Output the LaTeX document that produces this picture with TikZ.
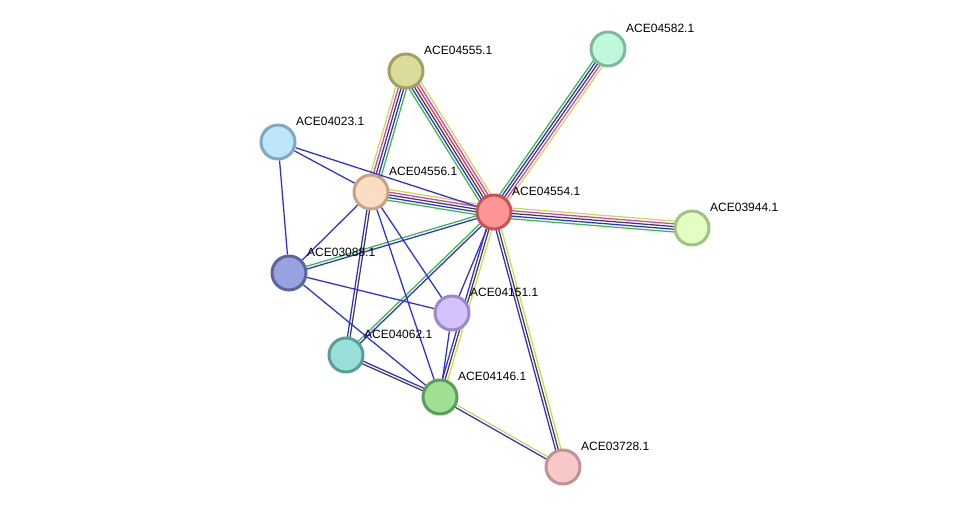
\documentclass[tikz,border=0pt]{standalone}
\usepackage{fontspec}
\setmainfont{Liberation Sans}
\usetikzlibrary{calc}
\pgfdeclarelayer{background}
\pgfsetlayers{background,main}
\definecolor{egreen}{HTML}{33C033}
\definecolor{eblue}{HTML}{2A2AF5}
\definecolor{eblack}{HTML}{404040}
\definecolor{ered}{HTML}{FF2A2A}
\definecolor{emag}{HTML}{D23CD2}
\definecolor{eyel}{HTML}{C8DC46}
\definecolor{f4582}{HTML}{C0F8DA}\definecolor{d4582}{HTML}{7CBC9C}
\definecolor{f4555}{HTML}{DCDC9A}\definecolor{d4555}{HTML}{A0A060}
\definecolor{f4023}{HTML}{BEE6FA}\definecolor{d4023}{HTML}{80A8C2}
\definecolor{f4556}{HTML}{FDDDC2}\definecolor{d4556}{HTML}{C4A482}
\definecolor{f4554}{HTML}{FF9494}\definecolor{d4554}{HTML}{C45454}
\definecolor{f3944}{HTML}{E2FEC2}\definecolor{d3944}{HTML}{A2C282}
\definecolor{f3088}{HTML}{98A2E0}\definecolor{d3088}{HTML}{5A64A0}
\definecolor{f4151}{HTML}{D4C2FC}\definecolor{d4151}{HTML}{9A88C8}
\definecolor{f4062}{HTML}{98E0D8}\definecolor{d4062}{HTML}{5A9E98}
\definecolor{f4146}{HTML}{A0E094}\definecolor{d4146}{HTML}{5A9E58}
\definecolor{f3728}{HTML}{F8C8C8}\definecolor{d3728}{HTML}{C09292}
\newcommand{\edgeset}[4]{%
  \foreach \col [count=\k] in {#4}{
    \pgfmathsetmacro{\off}{(\k-(#3+1)/2)*2.7}
    \draw[edge,\col] ($(#1.center)!\off pt!90:(#2.center)$) -- ($(#2.center)!\off pt!-90:(#1.center)$);
  }}
\begin{document}
\begin{tikzpicture}[x=1pt, y=-1pt, line cap=round, line join=round,
  font=\fontsize{12}{14}\selectfont,
  prot/.style={circle, minimum size=34pt, inner sep=0pt, line width=3pt, fill=f#1, draw=d#1},
  lbl/.style={anchor=west, inner sep=0pt},
  edge/.style={line width=1.25pt}]
\useasboundingbox (0,0) rectangle (975,513);
\node[prot=4582] (n4582) at (608,49) {};
\node[prot=4555] (n4555) at (406,71) {};
\node[prot=4023] (n4023) at (278,142) {};
\node[prot=4556] (n4556) at (371,192) {};
\node[prot=4554] (n4554) at (494,212) {};
\node[prot=3944] (n3944) at (692,228) {};
\node[prot=3088] (n3088) at (289,273) {};
\node[prot=4151] (n4151) at (452,313) {};
\node[prot=4062] (n4062) at (346,355) {};
\node[prot=4146] (n4146) at (440,397) {};
\node[prot=3728] (n3728) at (563,467) {};
\node[lbl] (l4582) at ([shift={(18,-21)}]n4582.center) {ACE04582.1};
\node[lbl] (l4555) at ([shift={(18,-21)}]n4555.center) {ACE04555.1};
\node[lbl] (l4023) at ([shift={(18,-21)}]n4023.center) {ACE04023.1};
\node[lbl] (l4556) at ([shift={(18,-21)}]n4556.center) {ACE04556.1};
\node[lbl] (l4554) at ([shift={(18,-21)}]n4554.center) {ACE04554.1};
\node[lbl] (l3944) at ([shift={(18,-21)}]n3944.center) {ACE03944.1};
\node[lbl] (l3088) at ([shift={(18,-21)}]n3088.center) {ACE03088.1};
\node[lbl] (l4151) at ([shift={(18,-21)}]n4151.center) {ACE04151.1};
\node[lbl] (l4062) at ([shift={(18,-21)}]n4062.center) {ACE04062.1};
\node[lbl] (l4146) at ([shift={(18,-21)}]n4146.center) {ACE04146.1};
\node[lbl] (l3728) at ([shift={(18,-21)}]n3728.center) {ACE03728.1};
\begin{pgfonlayer}{background}
\edgeset{n4555}{n4554}{6}{egreen,eblue,eblack,ered,emag,eyel}
\edgeset{n4555}{n4556}{5}{eyel,emag,eblack,eblue,egreen}
\edgeset{n4554}{n4582}{5}{eyel,emag,eblack,eblue,egreen}
\edgeset{n4554}{n3944}{5}{egreen,eblue,eblack,emag,eyel}
\edgeset{n4556}{n4554}{5}{egreen,eblue,eblack,emag,eyel}
\edgeset{n3088}{n4554}{2}{eblue,egreen}
\edgeset{n4554}{n4062}{2}{egreen,eblue}
\edgeset{n4554}{n4146}{3}{eblue,eblack,eyel}
\edgeset{n4554}{n3728}{3}{eblue,eblack,eyel}
\edgeset{n4556}{n4062}{2}{eblue,eblack}
\edgeset{n4062}{n4146}{2}{eblack,eblue}
\edgeset{n4146}{n3728}{2}{eblue,eyel}
\draw[edge,eblue] (n4023) -- (n4556) (n4023) -- (n4554) (n4023) -- (n3088)
  (n4556) -- (n3088) (n3088) -- (n4151) (n3088) -- (n4146)
  (n4556) -- (n4146) (n4556) -- (n4151) (n4554) -- (n4151) (n4151) -- (n4146);
\end{pgfonlayer}
\end{tikzpicture}
\end{document}
